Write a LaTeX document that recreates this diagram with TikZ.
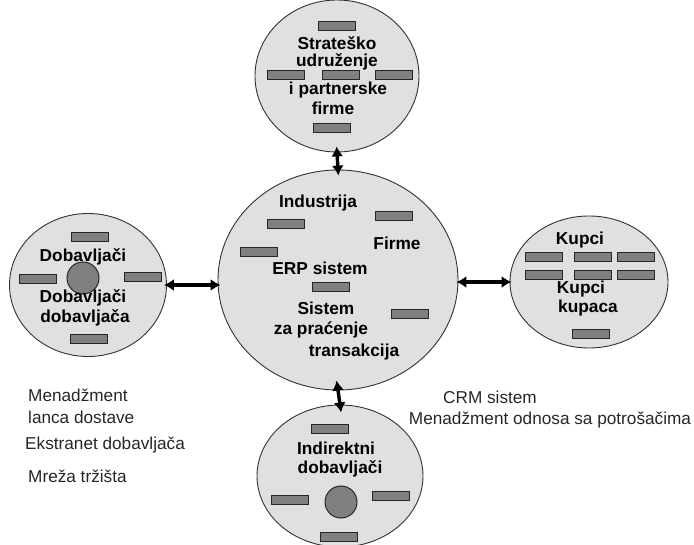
\documentclass[tikz,border=0pt]{standalone}
\usepackage{fontspec}
\setmainfont{Liberation Sans}
\usetikzlibrary{shapes.geometric,arrows.meta}
\definecolor{cloud}{RGB}{224,224,224}
\definecolor{rim}{RGB}{50,50,50}
\definecolor{slab}{RGB}{128,128,128}
\tikzset{
  x=1pt, y=-1pt,
  group/.style={ellipse, draw=rim, line width=0.9pt, fill=cloud, inner sep=0pt},
  bar/.style={rectangle, draw=black!85, line width=1.2pt, fill=slab,
              minimum width=37pt, minimum height=9pt, inner sep=0pt},
  hub/.style={circle, draw=black!85, line width=1pt, fill=slab,
              minimum size=32pt, inner sep=0pt},
  lbl/.style={font=\fontsize{17.3}{19}\selectfont\bfseries, inner sep=0pt, text=black},
  note/.style={font=\fontsize{17.2}{19}\selectfont, inner sep=0pt, anchor=west, text=black!85},
  link/.style={line width=3.4pt, {Latex[length=10pt,width=12pt]}-{Latex[length=10pt,width=12pt]}}
}
\begin{document}
\begin{tikzpicture}
\useasboundingbox (0,0) rectangle (694,545);

% the five groups
\node[group, minimum width=164pt, minimum height=152pt] (strat) at (337,76) {};
\node[group, minimum width=240pt, minimum height=220pt] (core) at (338,280) {};
\node[group, minimum width=157pt, minimum height=143pt] (supp) at (88,285) {};
\node[group, minimum width=158pt, minimum height=132pt] (cust) at (589,282) {};
\node[group, minimum width=166pt, minimum height=142pt] (indir) at (340,476) {};

% connections to the core
\draw[link, shorten <=-6pt, shorten >=-6pt] (strat.south) -- (core.north);
\draw[link, shorten <=-3pt, shorten >=-3pt] (supp.east) -- (core.west |- supp.east);
\draw[link, shorten <=-2pt, shorten >=-2pt] (core.east |- cust.west) -- (cust.west);
\draw[link, shorten <=-10pt, shorten >=-8pt] (core.south) -- (indir.north);

% strategic partners
\node[bar] (s1) at (337,26) {};
\node[bar] (s2) at (286,75) {};
\node[bar] (s3) at (341,75) {};
\node[bar] (s4) at (394,75) {};
\node[bar] (s5) at (332,128) {};
\node[lbl] (sa) at (337,43) {Strateško};
\node[lbl] (sb) at (337,62) {udruženje};
\node[lbl] (sc) at (338,90) {i partnerske};
\node[lbl] (sd) at (333,108) {firme};

% core enterprise
\node[bar] (c1) at (286,224) {};
\node[bar] (c2) at (394,216) {};
\node[bar] (c3) at (259,252) {};
\node[bar] (c4) at (331,287) {};
\node[bar] (c5) at (410,314) {};
\node[lbl] (ca) at (318,203) {Industrija};
\node[lbl] (cb) at (397,243) {Firme};
\node[lbl] (cc) at (320,268) {ERP sistem};
\node[lbl] (cd) at (326,308) {Sistem};
\node[lbl] (ce) at (321,330) {za praćenje};
\node[lbl] (cf) at (354,352) {transakcija};

% suppliers
\node[hub] (ph) at (83,278) {};
\node[bar] (p1) at (90,237) {};
\node[bar] (p2) at (38,279) {};
\node[bar] (p3) at (143,277) {};
\node[bar] (p4) at (89,339) {};
\node[lbl] (pa) at (83,257) {Dobavljači};
\node[lbl] (pb) at (83,298) {Dobavljači};
\node[lbl] (pc) at (85,318) {dobavljača};

% customers
\node[bar] (k1) at (544,257) {};
\node[bar] (k2) at (593,257) {};
\node[bar] (k3) at (636,257) {};
\node[bar] (k4) at (544,275) {};
\node[bar] (k5) at (593,275) {};
\node[bar] (k6) at (636,275) {};
\node[bar] (k7) at (591,334) {};
\node[lbl] (ka) at (580,240) {Kupci};
\node[lbl] (kb) at (581,289) {Kupci};
\node[lbl] (kc) at (588,308) {kupaca};

% indirect suppliers
\node[hub] (ih) at (341,502) {};
\node[bar] (i1) at (330,429) {};
\node[bar] (i2) at (290,500) {};
\node[bar] (i3) at (391,496) {};
\node[bar] (i4) at (339,537) {};
\node[lbl] (ia) at (336,448) {Indirektni};
\node[lbl] (ib) at (340,469) {dobavljači};

% side notes
\node[note] (n1) at (28,395) {Menadžment};
\node[note] (n2) at (28,417) {lanca dostave};
\node[note] (n3) at (25,445) {Ekstranet dobavljača};
\node[note] (n4) at (28,476) {Mreža tržišta};
\node[note, anchor=center] (n5) at (490,397) {CRM sistem};
\node[note, anchor=center] (n6) at (550,420) {Menadžment odnosa sa potrošačima};
\end{tikzpicture}
\end{document}
